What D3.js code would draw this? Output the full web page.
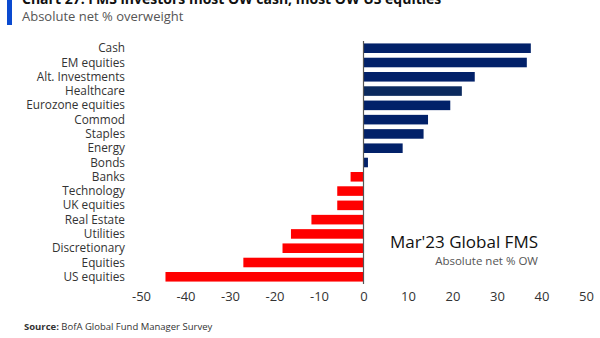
<!DOCTYPE html>
<html>
<head>
<meta charset="utf-8">
<script src="https://cdn.jsdelivr.net/npm/d3@7"></script>
<style>
  body { margin: 0; background: #fff; }
  svg { display: block; font-family: "Open Sans", "Noto Sans", sans-serif; }
</style>
</head>
<body>
<div id="chart"></div>
<script>
const categories = ["Cash", "EM equities", "Alt. Investments", "Healthcare", "Eurozone equities",
  "Commod", "Staples", "Energy", "Bonds", "Banks", "Technology", "UK equities", "Real Estate",
  "Utilities", "Discretionary", "Equities", "US equities"];
const values = [37.6, 36.7, 25, 22.1, 19.5, 14.5, 13.5, 8.8, 1, -2.9, -5.9, -5.9, -11.7, -16.3, -18.2, -27, -44.5];
const xTicks = [-50, -40, -30, -20, -10, 0, 10, 20, 30, 40, 50];

var width = 600, height = 338;
var svg = d3.select("#chart").append("svg")
  .attr("width", width)
  .attr("height", height);

// header (title is cropped at the top, as in the source image)
svg.append("rect").attr("x", 7).attr("y", 0).attr("width", 5).attr("height", 25).attr("fill", "#0a4ad0");
svg.append("text").attr("x", 22).attr("y", 4)
  .attr("font-size", 14).attr("font-weight", "bold").attr("fill", "#111")
  .text("Chart 27: FMS investors most OW cash, most OW US equities");
svg.append("text").attr("x", 22).attr("y", 21)
  .attr("font-size", 13).attr("fill", "#555")
  .text("Absolute net % overweight");

// scales
var x = d3.scaleLinear().domain([-50, 50]).range([141, 586]);
var y = d3.scaleBand().domain(categories).range([41, 284]).paddingInner(0.33).paddingOuter(0.17);

// bars
svg.append("g").selectAll("rect")
  .data(categories)
  .enter().append("rect")
    .attr("x", function(d, i) { return x(Math.min(0, values[i])); })
    .attr("y", function(d) { return y(d); })
    .attr("width", function(d, i) { return Math.abs(x(values[i]) - x(0)); })
    .attr("height", y.bandwidth())
    .attr("fill", function(d, i) { return values[i] >= 0 ? (d == "Healthcare" ? "#0b2a5e" : "#022169") : "#ff0000"; });

// zero line
svg.append("line")
  .attr("x1", x(0)).attr("x2", x(0))
  .attr("y1", 41).attr("y2", 284)
  .attr("stroke", "#555").attr("stroke-width", 1.2);

// category labels
svg.append("g").selectAll("text")
  .data(categories)
  .enter().append("text")
    .attr("x", 125)
    .attr("y", function(d) { return y(d) + y.bandwidth() / 2; })
    .attr("dy", "0.35em")
    .attr("text-anchor", "end")
    .attr("font-size", 11.8)
    .attr("fill", "#333")
    .text(function(d) { return d; });

// x tick labels
var xAxis = svg.append("g")
  .attr("transform", "translate(0,292)")
  .call(d3.axisBottom(x).tickValues(xTicks).tickSize(0).tickPadding(0)
    .tickFormat(function(d) { return String(d); }));
xAxis.select(".domain").remove();
xAxis.selectAll("text")
  .attr("font-family", "'Open Sans', 'Noto Sans', sans-serif")
  .attr("font-size", 13)
  .attr("fill", "#333");

// annotation
svg.append("text").attr("x", 538).attr("y", 248)
  .attr("text-anchor", "end").attr("font-size", 17).attr("fill", "#111")
  .text("Mar'23 Global FMS");
svg.append("text").attr("x", 538).attr("y", 265)
  .attr("text-anchor", "end").attr("font-size", 11.5).attr("fill", "#555")
  .text("Absolute net % OW");

// source
var src = svg.append("text").attr("x", 24).attr("y", 330)
  .attr("font-size", 9.5).attr("fill", "#333");
src.append("tspan").attr("font-weight", "bold").text("Source:");
src.append("tspan").text(" BofA Global Fund Manager Survey");
</script>
</body>
</html>
